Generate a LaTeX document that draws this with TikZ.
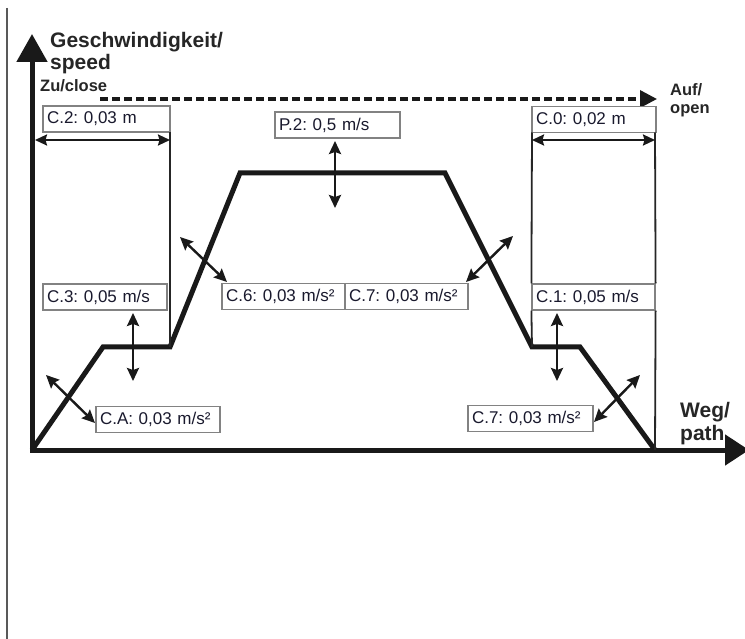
\documentclass[tikz,border=0pt]{standalone}
\usepackage{fontspec}
\setmainfont{Liberation Sans}
\usetikzlibrary{arrows.meta}
\definecolor{txtc}{RGB}{25,25,45}
\definecolor{boxc}{RGB}{130,130,130}
\frenchspacing
\begin{document}
\begin{tikzpicture}[x=1pt,y=-1pt,
  valbox/.style={draw=boxc, line width=1.2pt, fill=white, text=txtc,
    font=\fontsize{17}{17}\selectfont, minimum height=26pt,
    inner xsep=4pt, inner ysep=0pt, text width=#1, align=left},
  axislbl/.style={font=\bfseries\fontsize{21}{23}\selectfont, text=black!85, inner sep=0pt, anchor=base west},
  smalllbl/.style={font=\bfseries\fontsize{16.5}{17}\selectfont, text=black!85, inner sep=0pt, anchor=base west},
  axisline/.style={line width=5pt, line join=miter, black!90},
  profile/.style={line width=5pt, line join=miter, black!90},
  thinline/.style={line width=1.8pt, black!85},
  dblarrow/.style={line width=2.4pt, black!90, {Stealth[length=13pt,width=12pt,inset=2pt]}-{Stealth[length=13pt,width=12pt,inset=2pt]}},
  dimarrow/.style={line width=2.2pt, black!90, {Stealth[length=12pt,width=11pt,inset=1.5pt]}-{Stealth[length=12pt,width=11pt,inset=1.5pt]}},
]
\useasboundingbox (0,0) rectangle (745,639);
\fill[white] (0,0) rectangle (745,639);

% left frame line
\coordinate (ft) at (7,8);
\coordinate (fb) at (7,639);
\draw[line width=1.3pt, black!65] (ft) -- (fb);

% axes
\coordinate (ytip) at (32,34);
\coordinate (orig) at (32,450);
\coordinate (xtip) at (749,450);
\draw[axisline, {Triangle[length=28pt,width=30pt]}-{Triangle[length=24pt,width=30pt]}] (ytip) -- (orig) -- (xtip);

% profile
\coordinate (p1) at (103,347);
\coordinate (p2) at (170,347);
\coordinate (p3) at (240,173);
\coordinate (p4) at (445,173);
\coordinate (p5) at (532,347);
\coordinate (p6) at (580,347);
\coordinate (p7) at (655,450);
\draw[profile] (orig) -- (p1) -- (p2) -- (p3) -- (p4) -- (p5) -- (p6) -- (p7);

% axis labels
\node[axislbl] (gesch) at (50,48) {Geschwindigkeit/};
\node[axislbl] (speed) at (50,70) {speed};
\node[axislbl] (weg) at (680,417) {Weg/};
\node[axislbl] (path) at (680,440) {path};
\node[smalllbl] (zu) at (40,92) {Zu/close};
\node[smalllbl] (auf) at (670,96) {Auf/};
\node[smalllbl] (open) at (670,114) {open};

% dashed direction arrow
\coordinate (dstart) at (100,99);
\coordinate (dend) at (657,99);
\draw[line width=3.4pt, black!90, dash pattern=on 8pt off 4pt, -{Triangle[length=17pt,width=17pt]}] (dstart) -- (dend);

% value boxes
\node[valbox=119pt] (c2) at (106.5,119) {C.2: 0,03 m};
\node[valbox=116pt] (c0) at (594,119.5) {C.0: 0,02 m};
\node[valbox=116pt] (c3) at (105,297) {C.3: 0,05 m/s};
\node[valbox=115pt] (c1) at (593.5,297) {C.1: 0,05 m/s};
\node[valbox=116pt] (ca) at (158,419.5) {C.A: 0,03 m/s²};
\node[valbox=115pt] (c6) at (283.5,296.5) {C.6: 0,03 m/s²};
\node[valbox=115pt] (c7m) at (406.5,296.5) {C.7: 0,03 m/s²};
\node[valbox=117pt] (p2box) at (337.5,125) {P.2: 0,5 m/s};
\node[valbox=117pt] (c7b) at (530.5,418.5) {C.7: 0,03 m/s²};

% vertical guide lines
\coordinate (g1t) at (170,132);
\coordinate (g2t) at (532,132.5);
\coordinate (g3t) at (655,132.5);
\draw[thinline] (g1t) -- (p2);
\draw[thinline] (g2t) -- (c1.north west);
\draw[thinline] (c1.south west) -- (p5);
\draw[thinline] (g3t) -- (c1.north east);
\draw[thinline] (c1.south east) -- (p7);

% dimension arrows
\coordinate (d2a) at (35,140);
\coordinate (d2b) at (170,140);
\coordinate (d0a) at (532,140);
\coordinate (d0b) at (655,140);
\draw[dimarrow] (d2a) -- (d2b);
\draw[dimarrow] (d0a) -- (d0b);

% double arrows
\coordinate (a3t) at (133,313);
\coordinate (a3b) at (133,381);
\draw[dblarrow] (a3t) -- (a3b);
\coordinate (a1t) at (557,313);
\coordinate (a1b) at (557,381);
\draw[dblarrow] (a1t) -- (a1b);
\coordinate (aPt) at (335,141);
\coordinate (aPb) at (335,208);
\draw[dblarrow] (aPt) -- (aPb);
\coordinate (aAa) at (46,375);
\coordinate (aAb) at (95,423);
\draw[dblarrow] (aAa) -- (aAb);
\coordinate (a6a) at (180,237);
\coordinate (a6b) at (227,282);
\draw[dblarrow] (a6a) -- (a6b);
\coordinate (a7a) at (513,236);
\coordinate (a7b) at (466,282);
\draw[dblarrow] (a7a) -- (a7b);
\coordinate (a7ba) at (640,375);
\coordinate (a7bb) at (594,422);
\draw[dblarrow] (a7ba) -- (a7bb);
\end{tikzpicture}
\end{document}
